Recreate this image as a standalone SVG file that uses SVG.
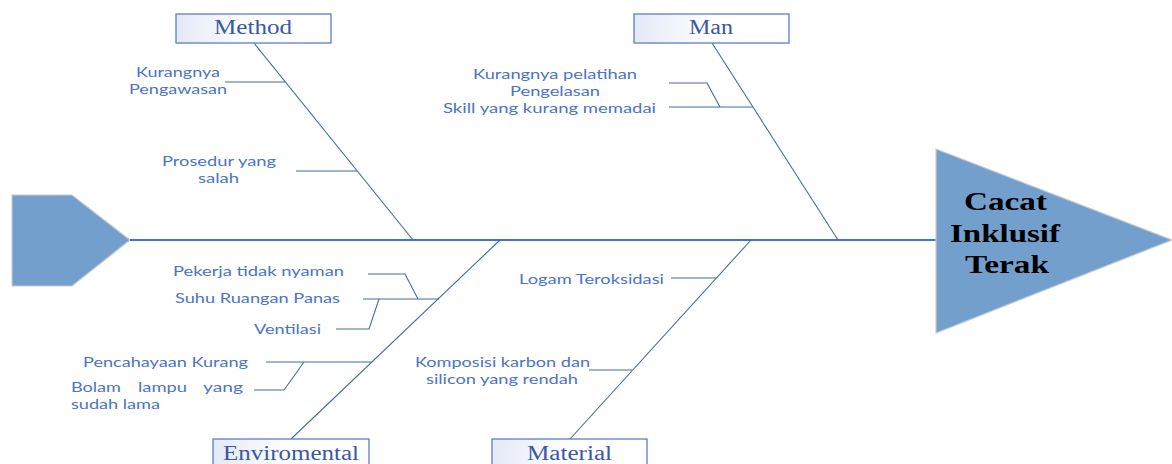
<svg xmlns="http://www.w3.org/2000/svg" width="1172" height="464" viewBox="0 0 1172 464">
<defs>
<linearGradient id="boxg" x1="0" y1="0" x2="1" y2="0">
<stop offset="0" stop-color="#e4e9f7"/>
<stop offset="0.5" stop-color="#ffffff"/>
<stop offset="1" stop-color="#ffffff"/>
</linearGradient>
<style>
.box{fill:url(#boxg);stroke:#5b7fc7;stroke-width:1.3}
.boxt{font-family:"Liberation Serif",serif;font-size:20px;fill:#3a58a3}
.lbl{font-family:Lato,"Open Sans",sans-serif;font-size:14px;fill:#4a74c6}
.bone{fill:none;stroke:#3f6fa0;stroke-width:1.1}
.shape{fill:#739fcd;stroke:#c8ccd2;stroke-width:1.2}
.head{font-family:"Liberation Serif",serif;font-size:26px;font-weight:bold;fill:#000}
</style>
</defs>
<rect width="1172" height="464" fill="#ffffff"/>

<g id="tail"><polygon class="shape" points="12,195 72,195 130,240 72,286 12,286"/></g>

<g id="connectors">
<line x1="130" y1="240" x2="937" y2="240" stroke="#4472c4" stroke-width="2"/>
<line class="bone" x1="254" y1="43" x2="413" y2="240"/>
<line class="bone" x1="225" y1="82" x2="285" y2="82"/>
<line class="bone" x1="296" y1="171" x2="357" y2="171"/>
<line class="bone" x1="712" y1="43" x2="838" y2="240"/>
<line class="bone" x1="669" y1="107" x2="753" y2="107"/>
<polyline class="bone" points="669,83 707,83 720,107"/>
<line class="bone" x1="291" y1="439" x2="500" y2="240"/>
<polyline class="bone" points="368,274 405,274 418,299"/>
<line class="bone" x1="363" y1="299" x2="439" y2="299"/>
<polyline class="bone" points="336,329 369,329 379,299"/>
<line class="bone" x1="266" y1="362" x2="372" y2="362"/>
<polyline class="bone" points="304,362 284,390 254,390"/>
<line class="bone" x1="570" y1="439" x2="751" y2="240"/>
<line class="bone" x1="671" y1="278" x2="716" y2="278"/>
<line class="bone" x1="589" y1="370" x2="632" y2="370"/>
</g>

<g id="head">
<polygon class="shape" points="936,149 1172,240 936,333"/>
<text class="head" x="964" y="210" textLength="83" lengthAdjust="spacingAndGlyphs">Cacat</text>
<text class="head" x="950" y="242" textLength="110" lengthAdjust="spacingAndGlyphs">Inklusif</text>
<text class="head" x="965" y="273" textLength="84" lengthAdjust="spacingAndGlyphs">Terak</text>
</g>

<g id="method">
<rect class="box" x="176" y="14" width="155" height="29"/>
<text class="boxt" x="214" y="34" textLength="78" lengthAdjust="spacingAndGlyphs">Method</text>
<text class="lbl" x="136" y="77" textLength="84" lengthAdjust="spacingAndGlyphs">Kurangnya</text>
<text class="lbl" x="129" y="94" textLength="98" lengthAdjust="spacingAndGlyphs">Pengawasan</text>
<text class="lbl" x="162" y="166" textLength="114" lengthAdjust="spacingAndGlyphs">Prosedur yang</text>
<text class="lbl" x="198" y="183" textLength="41" lengthAdjust="spacingAndGlyphs">salah</text>
</g>

<g id="man">
<rect class="box" x="634" y="14" width="155" height="29"/>
<text class="boxt" x="689" y="34" textLength="44" lengthAdjust="spacingAndGlyphs">Man</text>
<text class="lbl" x="473" y="79" textLength="164" lengthAdjust="spacingAndGlyphs">Kurangnya pelatihan</text>
<text class="lbl" x="510" y="96" textLength="90" lengthAdjust="spacingAndGlyphs">Pengelasan</text>
<text class="lbl" x="443" y="113" textLength="213" lengthAdjust="spacingAndGlyphs">Skill yang kurang memadai</text>
</g>

<g id="enviromental">
<rect class="box" x="213" y="439" width="156" height="30"/>
<text class="boxt" x="223" y="460" textLength="136" lengthAdjust="spacingAndGlyphs">Enviromental</text>
<text class="lbl" x="173" y="276" textLength="171" lengthAdjust="spacingAndGlyphs">Pekerja tidak nyaman</text>
<text class="lbl" x="175" y="303" textLength="165" lengthAdjust="spacingAndGlyphs">Suhu Ruangan Panas</text>
<text class="lbl" x="254" y="334" textLength="67" lengthAdjust="spacingAndGlyphs">Ventilasi</text>
<text class="lbl" x="83" y="367" textLength="165" lengthAdjust="spacingAndGlyphs">Pencahayaan Kurang</text>
<text class="lbl" x="71" y="392" textLength="50" lengthAdjust="spacingAndGlyphs">Bolam</text>
<text class="lbl" x="138" y="392" textLength="49" lengthAdjust="spacingAndGlyphs">lampu</text>
<text class="lbl" x="203" y="392" textLength="40" lengthAdjust="spacingAndGlyphs">yang</text>
<text class="lbl" x="71" y="409" textLength="89" lengthAdjust="spacingAndGlyphs">sudah lama</text>
</g>

<g id="material">
<rect class="box" x="492" y="439" width="155" height="30"/>
<text class="boxt" x="527" y="460" textLength="85" lengthAdjust="spacingAndGlyphs">Material</text>
<text class="lbl" x="519" y="284" textLength="145" lengthAdjust="spacingAndGlyphs">Logam Teroksidasi</text>
<text class="lbl" x="415" y="367" textLength="175" lengthAdjust="spacingAndGlyphs">Komposisi karbon dan</text>
<text class="lbl" x="426" y="384" textLength="152" lengthAdjust="spacingAndGlyphs">silicon yang rendah</text>
</g>
</svg>
